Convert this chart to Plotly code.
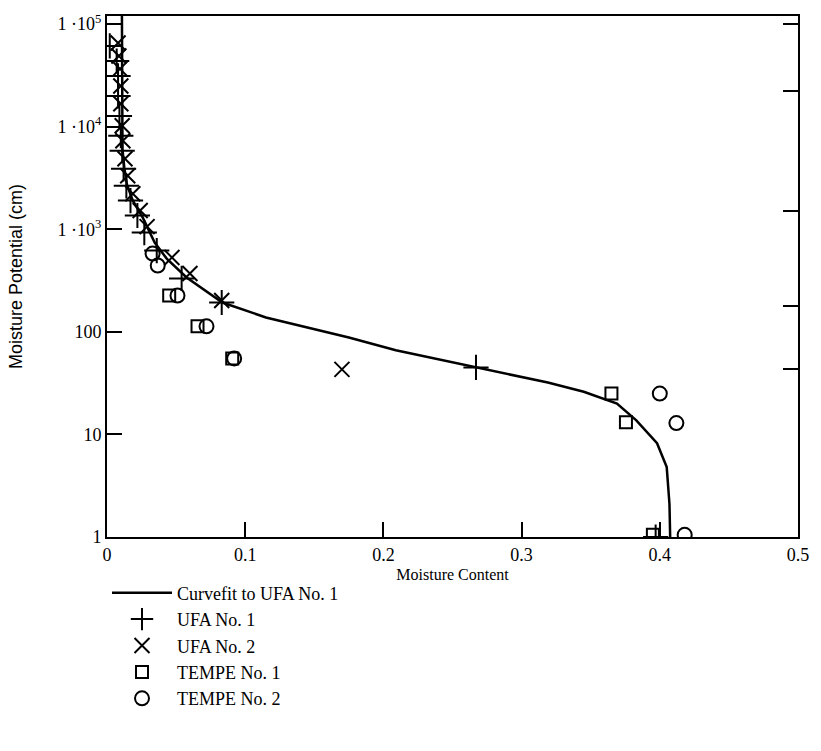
import plotly.graph_objects as go

# ---- data ----
curve_theta = [0.0108, 0.0108, 0.0112, 0.0125, 0.0145, 0.0187, 0.0259, 0.0345, 0.0432,
               0.0576, 0.0835, 0.115, 0.175, 0.209, 0.267, 0.319, 0.345, 0.369, 0.383,
               0.398, 0.405, 0.407, 0.4075]
curve_h = [120000, 10000, 6000, 4000, 2700, 1897, 1297, 741, 517,
           338, 193, 138, 88, 66, 45, 32, 26, 20, 13.7,
           8.2, 4.8, 2.1, 1]

ufa1_theta = [0.002, 0.007, 0.008, 0.008, 0.009, 0.010, 0.011, 0.012, 0.014, 0.017,
              0.022, 0.027, 0.036, 0.054, 0.083, 0.267, 0.397]
ufa1_h = [61100, 43600, 31200, 19900, 12700, 8140, 5820, 3880, 2650, 1900,
          1360, 927, 619, 331, 193, 45, 1.0]

ufa2_theta = [0.008, 0.0086, 0.0094, 0.010, 0.010, 0.011, 0.0115, 0.013, 0.015, 0.0187,
              0.024, 0.029, 0.047, 0.060, 0.083, 0.170]
ufa2_h = [65300, 48800, 36500, 24900, 16700, 10200, 7280, 4860, 3320, 2220,
          1520, 1060, 530, 370, 202, 43]

tempe1_theta = [0.045, 0.0655, 0.0906, 0.365, 0.3755, 0.395]
tempe1_h = [226, 113, 55, 25, 13.1, 1.05]

tempe2_theta = [0.033, 0.0367, 0.051, 0.072, 0.092, 0.400, 0.412, 0.418]
tempe2_h = [579, 443, 226, 113, 55, 25, 12.9, 1.05]

y_tick_vals = [1, 10, 100, 1000, 10000, 100000]
y_tick_text = ["1", "10", "100", "1 \u00b710<sup>3</sup>", "1 \u00b710<sup>4</sup>", "1 \u00b710<sup>5</sup>"]
x_tick_vals = [0, 0.1, 0.2, 0.3, 0.4, 0.5]
x_tick_text = ["0", "0.1", "0.2", "0.3", "0.4", "0.5"]
right_tick_vals = [100000, 22000, 1500, 180, 43]

FONT = "Liberation Serif"
SANS = "Liberation Sans"

fig = go.Figure()
fig.add_trace(go.Scatter(x=curve_theta, y=curve_h, mode="lines",
                         line=dict(color="black", width=2.5),
                         name="Curvefit to UFA No. 1"))
fig.add_trace(go.Scatter(x=ufa1_theta, y=ufa1_h, mode="markers",
                         marker=dict(symbol="cross-thin-open", size=18, color="black",
                                     line=dict(color="black", width=2)),
                         name="UFA No. 1"))
fig.add_trace(go.Scatter(x=ufa2_theta, y=ufa2_h, mode="markers",
                         marker=dict(symbol="x-thin-open", size=15, color="black",
                                     line=dict(color="black", width=2)),
                         name="UFA No. 2"))
fig.add_trace(go.Scatter(x=tempe1_theta, y=tempe1_h, mode="markers",
                         marker=dict(symbol="square-open", size=12, color="black",
                                     line=dict(color="black", width=2)),
                         name="TEMPE No. 1"))
fig.add_trace(go.Scatter(x=tempe2_theta, y=tempe2_h, mode="markers",
                         marker=dict(symbol="circle-open", size=14, color="black",
                                     line=dict(color="black", width=2)),
                         name="TEMPE No. 2"))
# helper for right-side ticks
fig.add_trace(go.Scatter(x=[None], y=[None], yaxis="y2", showlegend=False,
                         hoverinfo="skip"))

fig.update_layout(
    width=821, height=751,
    margin=dict(l=107, r=19, t=15, b=214),
    paper_bgcolor="white", plot_bgcolor="white",
    font=dict(family=FONT, color="black", size=18),
    showlegend=True,
    legend=dict(x=0, y=-0.072, xanchor="left", yanchor="top",
                font=dict(family=FONT, size=18, color="black"),
                itemwidth=60, tracegroupgap=0, bgcolor="rgba(0,0,0,0)"),
    xaxis=dict(range=[0, 0.5], tickvals=x_tick_vals, ticktext=x_tick_text,
               ticks="inside", ticklen=15, tickwidth=2, tickcolor="black",
               showline=True, linecolor="black", linewidth=2, mirror=True,
               showgrid=False, zeroline=False,
               tickfont=dict(family=FONT, size=18),
               title=dict(text="Moisture Content", standoff=5,
                          font=dict(family=FONT, size=16))),
    yaxis=dict(type="log", range=[0, 5.078], tickvals=y_tick_vals, ticktext=y_tick_text,
               ticks="inside", ticklen=15, tickwidth=2, tickcolor="black",
               showline=True, linecolor="black", linewidth=2, mirror=True,
               showgrid=False, zeroline=False,
               tickfont=dict(family=FONT, size=18),
               title=dict(text="Moisture Potential (cm)", standoff=30,
                          font=dict(family=SANS, size=18))),
    yaxis2=dict(type="log", range=[0, 5.078], overlaying="y", side="right",
                tickvals=right_tick_vals, showticklabels=False,
                ticks="inside", ticklen=15, tickwidth=2, tickcolor="black",
                showline=False, showgrid=False, zeroline=False),
)

fig.write_html("out.html")
